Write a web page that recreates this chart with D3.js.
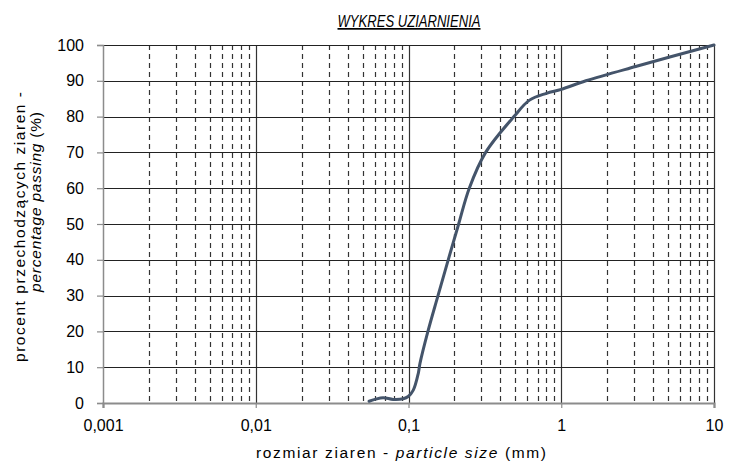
<!DOCTYPE html>
<html>
<head>
<meta charset="utf-8">
<script src="https://cdn.jsdelivr.net/npm/d3@7"></script>
<style>
  html, body { margin: 0; padding: 0; background: #fff; }
  svg { display: block; font-family: "Liberation Sans", Arial, sans-serif; }
</style>
</head>
<body>
<svg id="chart" width="729" height="464"></svg>
<script>
// Grain size distribution: particle size (mm) vs percentage passing
const sizes   = [0.0552, 0.0603, 0.0682, 0.0794, 0.0924, 0.0995, 0.1075, 0.1159, 0.1188, 0.134, 0.156, 0.182, 0.213, 0.25, 0.32, 0.49, 0.62, 0.8, 1.0, 1.45, 3.07, 10];
const passing = [0.5,    1.0,    1.5,    1.0,    1.2,    1.8,    3.6,    8.3,    11,     20,    30,    40,    50,    60,   70,   80,   84.6, 86.5, 87.6, 90, 94, 100];

const xTicks = [0.001, 0.01, 0.1, 1, 10];
const xTickLabels = ["0,001", "0,01", "0,1", "1", "10"];
const yTicks = [0, 10, 20, 30, 40, 50, 60, 70, 80, 90, 100];

const svg = d3.select("#chart");
const m = { left: 103, right: 714, top: 45, bottom: 403 };

const x = d3.scaleLog().domain([0.001, 10]).range([m.left, m.right]);
const y = d3.scaleLinear().domain([0, 100]).range([m.bottom, m.top]);

// minor (dashed) vertical grid: 2..9 in each decade
const minor = [];
for (let d = 0.001; d < 10; d *= 10) {
  for (let k = 2; k <= 9; k++) minor.push(+(d * k).toPrecision(3));
}
svg.append("g").selectAll("line").data(minor).join("line")
  .attr("x1", d => Math.round(x(d)) + 0.5).attr("x2", d => Math.round(x(d)) + 0.5)
  .attr("y1", m.top).attr("y2", m.bottom)
  .attr("stroke", "#333").attr("stroke-width", 1.2)
  .attr("stroke-dasharray", "5,4");

// major vertical grid at decades
svg.append("g").selectAll("line").data(xTicks.slice(1)).join("line")
  .attr("x1", d => Math.round(x(d)) + 0.5).attr("x2", d => Math.round(x(d)) + 0.5)
  .attr("y1", m.top).attr("y2", m.bottom)
  .attr("stroke", "#333").attr("stroke-width", 1.2);

// horizontal grid
svg.append("g").selectAll("line").data(yTicks.slice(1)).join("line")
  .attr("x1", m.left).attr("x2", m.right)
  .attr("y1", d => Math.round(y(d)) + 0.5).attr("y2", d => Math.round(y(d)) + 0.5)
  .attr("stroke", "#222").attr("stroke-width", 1.2);

// y axis
const yAxis = d3.axisLeft(y).tickValues(yTicks).tickSize(6).tickPadding(13).tickFormat(d3.format("d"));
const gy = svg.append("g").attr("transform", `translate(${m.left},0)`).call(yAxis);
gy.select(".domain").attr("stroke", "#8c8c8c").attr("stroke-width", 1.5);
gy.selectAll(".tick line").attr("stroke", "#8c8c8c").attr("stroke-width", 1.2);
gy.selectAll(".tick text").attr("font-size", 16).attr("fill", "#000")
  .attr("font-family", "Liberation Sans, Arial, sans-serif");

// x axis
const xAxis = d3.axisBottom(x).tickValues(xTicks).tickSize(5).tickPadding(12)
  .tickFormat((d, i) => xTickLabels[i]);
const gx = svg.append("g").attr("transform", `translate(0,${m.bottom})`).call(xAxis);
gx.select(".domain").attr("stroke", "#8c8c8c").attr("stroke-width", 2.2);
gx.selectAll(".tick line").attr("stroke", "#8c8c8c").attr("stroke-width", 1.2);
gx.selectAll(".tick text").attr("font-size", 16).attr("fill", "#000")
  .attr("font-family", "Liberation Sans, Arial, sans-serif");

// grading curve
const pts = sizes.map((s, i) => [s, passing[i]]);
svg.append("path").datum(pts)
  .attr("fill", "none").attr("stroke", "#44546a").attr("stroke-width", 3)
  .attr("stroke-linecap", "round").attr("stroke-linejoin", "round")
  .attr("d", d3.line().x(d => x(d[0])).y(d => y(d[1])).curve(d3.curveCatmullRom.alpha(0.5)));

// title
svg.append("text").attr("x", 409).attr("y", 27).attr("text-anchor", "middle")
  .attr("font-size", 17).attr("font-style", "italic").attr("text-decoration", "underline")
  .attr("textLength", 143).attr("lengthAdjust", "spacingAndGlyphs")
  .text("WYKRES UZIARNIENIA");

// x axis title
const xt = svg.append("text").attr("x", 401).attr("y", 458).attr("text-anchor", "middle")
  .attr("font-size", 15.5).attr("textLength", 290).attr("lengthAdjust", "spacing");
xt.append("tspan").text("rozmiar ziaren - ");
xt.append("tspan").attr("font-style", "italic").text("particle size");
xt.append("tspan").text(" (mm)");

// y axis title (two lines)
const yt = svg.append("g").attr("transform", "rotate(-90)");
yt.append("text").attr("x", -227).attr("y", 25).attr("text-anchor", "middle").attr("font-size", 15.5)
  .attr("textLength", 270).attr("lengthAdjust", "spacing")
  .text("procent przechodzących ziaren -");
const yt2 = yt.append("text").attr("x", -202).attr("y", 41).attr("text-anchor", "middle").attr("font-size", 15.5)
  .attr("textLength", 180).attr("lengthAdjust", "spacing");
yt2.append("tspan").attr("font-style", "italic").text("percentage passing");
yt2.append("tspan").text("  (%)");
</script>
</body>
</html>
